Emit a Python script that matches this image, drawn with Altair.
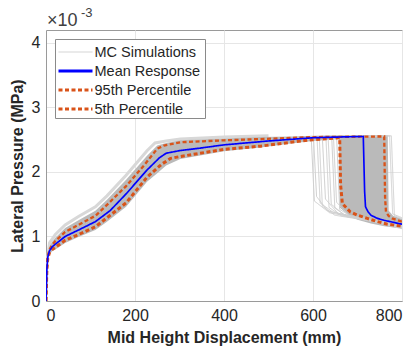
import altair as alt
import pandas as pd

# ---------------- data (pressure in units of 1e-3 MPa) ----------------
x_ticks = [0, 200, 400, 600, 800]
y_ticks = [0, 1, 2, 3, 4]

series_names = ["MC Simulations", "Mean Response", "95th Percentile", "5th Percentile"]

mean_x = [0, 1, 2, 4, 8, 14, 21, 43, 73, 111, 144, 180, 227, 255, 270, 300, 347, 400, 500,
          600, 650, 713, 716, 718, 724, 730, 745, 760, 780, 800]
mean_y = [0, 0.25, 0.5, 0.68, 0.78, 0.84, 0.88, 1.0, 1.10, 1.23, 1.40, 1.66, 2.03, 2.22, 2.29,
          2.33, 2.37, 2.42, 2.48, 2.53, 2.54, 2.55, 1.7, 1.46, 1.38, 1.33, 1.28, 1.25, 1.22, 1.19]

p95_x = [0, 1, 2, 4, 8, 14, 21, 43, 73, 111, 137, 180, 220, 250, 265, 302, 400, 482, 600,
         760, 762, 764, 770, 778, 790, 800]
p95_y = [0, 0.25, 0.5, 0.7, 0.8, 0.87, 0.93, 1.07, 1.18, 1.32, 1.49, 1.78, 2.1, 2.36, 2.41,
         2.46, 2.49, 2.51, 2.54, 2.55, 1.6, 1.38, 1.32, 1.28, 1.25, 1.23]

p5_x = [0, 1, 2, 4, 8, 14, 21, 43, 73, 111, 137, 180, 227, 260, 280, 302, 400, 482, 550,
        600, 660, 662, 666, 684, 700, 722, 745, 767, 800]
p5_y = [0, 0.25, 0.5, 0.66, 0.75, 0.8, 0.83, 0.94, 1.03, 1.15, 1.29, 1.52, 1.92, 2.12, 2.21,
        2.24, 2.35, 2.40, 2.46, 2.50, 2.53, 1.8, 1.51, 1.38, 1.33, 1.28, 1.23, 1.19, 1.16]

# envelope of the dense bundle of Monte Carlo curves
env_x = [0, 1, 2, 4, 8, 14, 21, 43, 73, 111, 137, 180, 227, 250, 270, 302, 400, 482, 550,
         600, 658, 660, 680, 700, 730, 760, 768, 770, 780, 800]
env_top = [0, 0.3, 0.55, 0.74, 0.85, 0.92, 0.98, 1.13, 1.25, 1.40, 1.57, 1.88, 2.25, 2.41, 2.45,
           2.49, 2.52, 2.54, 2.55, 2.56, 2.57, 2.57, 2.57, 2.57, 2.57, 2.57, 2.57, 1.40, 1.32, 1.27]
env_bot = [0, 0.2, 0.45, 0.62, 0.72, 0.77, 0.80, 0.90, 0.99, 1.10, 1.23, 1.46, 1.85, 1.98, 2.10,
           2.20, 2.32, 2.38, 2.44, 2.48, 2.51, 1.45, 1.33, 1.26, 1.20, 1.16, 1.15, 1.15, 1.14, 1.13]

# faint outer edge of the bundle in the rising part
halo_x = [0, 2, 8, 21, 43, 73, 111, 137, 180, 227, 245, 270, 302, 400, 500]
halo_top = [0, 0.6, 0.9, 1.03, 1.18, 1.31, 1.46, 1.63, 1.95, 2.33, 2.45, 2.48, 2.51, 2.54, 2.56]

# individual (sparser) simulations that fail outside the dense bundle
sim_start_x = 540
sim_start_y = 2.50
sim_plateau = [2.54, 2.55, 2.54, 2.55, 2.54, 2.55, 2.54, 2.55, 2.54, 2.55, 2.56, 2.56]
sim_drop_x = [596, 601, 609, 614, 621, 629, 634, 642, 646, 653, 772, 776]
sim_drop_bottom = [1.55, 1.62, 1.52, 1.47, 1.58, 1.45, 1.50, 1.44, 1.53, 1.42, 1.35, 1.32]
sim_knee_bottom = [1.40, 1.37, 1.38, 1.33, 1.36, 1.32, 1.34, 1.31, 1.33, 1.30, 1.27, 1.25]
sim_end = [1.12, 1.15, 1.13, 1.16, 1.14, 1.17, 1.13, 1.15, 1.18, 1.14, 1.24, 1.22]

# ---------------- tables ----------------
rows = []
for i in range(len(sim_drop_x)):
    dx = sim_drop_x[i]
    pts = [(sim_start_x, sim_start_y), (dx, sim_plateau[i]), (dx + 7, sim_drop_bottom[i]),
           (dx + 35, sim_knee_bottom[i]), (800, sim_end[i])]
    for k, (xx, yy) in enumerate(pts):
        rows.append(dict(x=xx, y=yy, series="MC Simulations", id=f"sim{i}", k=k))
sims = pd.DataFrame(rows)

main_rows = []
for name, xs, ys in [("95th Percentile", p95_x, p95_y), ("5th Percentile", p5_x, p5_y),
                     ("Mean Response", mean_x, mean_y)]:
    for k, (xx, yy) in enumerate(zip(xs, ys)):
        main_rows.append(dict(x=xx, y=yy, series=name, id=name, k=k))
main = pd.DataFrame(main_rows)

env = pd.DataFrame(dict(x=env_x, top=env_top, bot=env_bot))
halo = pd.DataFrame(dict(x=halo_x, y=halo_top))

# ---------------- styles ----------------
orange = "#D95319"
style_color = {"MC Simulations": "#cfcfcf", "Mean Response": "#0000ff",
               "95th Percentile": orange, "5th Percentile": orange}
style_dash = {"MC Simulations": [1, 0], "Mean Response": [1, 0],
              "95th Percentile": [4, 2.5], "5th Percentile": [4, 2.5]}
style_width = {"MC Simulations": 1, "Mean Response": 3,
               "95th Percentile": 3, "5th Percentile": 3}

xscale = alt.Scale(domain=[0, 800], nice=False)
yscale = alt.Scale(domain=[0, 4.2], nice=False)
xenc = alt.X("x:Q", scale=xscale,
             axis=alt.Axis(values=x_ticks, title="Mid Height Displacement (mm)", grid=True,
                           format="d"))
yenc = alt.Y("y:Q", scale=yscale,
             axis=alt.Axis(values=y_ticks, title="Lateral Pressure (MPa)", grid=True,
                           format="d"))

color = alt.Color("series:N", legend=None,
                  scale=alt.Scale(domain=series_names,
                                  range=[style_color[s] for s in series_names]))
dash = alt.StrokeDash("series:N", legend=None,
                      scale=alt.Scale(domain=series_names,
                                      range=[style_dash[s] for s in series_names]))
width = alt.StrokeWidth("series:N", legend=None,
                        scale=alt.Scale(domain=series_names,
                                        range=[style_width[s] for s in series_names]))

halo_line = alt.Chart(halo).mark_line(color="#d8d8d8", strokeWidth=3, clip=True).encode(
    x=alt.X("x:Q", scale=xscale), y=alt.Y("y:Q", scale=yscale))

band = alt.Chart(env).mark_area(color="#bababa", opacity=1, clip=True).encode(
    x=alt.X("x:Q", scale=xscale),
    y=alt.Y("top:Q", scale=yscale),
    y2="bot:Q",
)

sim_lines = alt.Chart(sims).mark_line(clip=True).encode(
    x=xenc, y=yenc, color=color, strokeDash=dash, strokeWidth=width,
    detail="id:N", order="k:Q")

main_lines = alt.Chart(main).mark_line(clip=True).encode(
    x=xenc, y=yenc, color=color, strokeDash=dash, strokeWidth=width,
    detail="id:N", order="k:Q")

# ---------------- legend (drawn in pixel space inside the plot) ----------------
one = pd.DataFrame({"a": [0]})
legend_layers = [
    alt.Chart(one).mark_rect(fill="white", stroke="#8a8a8a", strokeWidth=1).encode(
        x=alt.value(9.5), x2=alt.value(159.5), y=alt.value(9.5), y2=alt.value(88.5))
]
row_y = [22, 41, 60, 79]
for name, ry in zip(series_names, row_y):
    legend_layers.append(
        alt.Chart(one).mark_rule(color=style_color[name], strokeWidth=style_width[name],
                                 strokeDash=style_dash[name]).encode(
            x=alt.value(12.5), x2=alt.value(46.5), y=alt.value(ry)))
    legend_layers.append(
        alt.Chart(pd.DataFrame({"t": [name]})).mark_text(
            align="left", baseline="middle", fontSize=14.5, font="Liberation Sans",
            color="#262626").encode(x=alt.value(48.5), y=alt.value(ry + 0.5), text="t:N"))

exp_base = alt.Chart(pd.DataFrame({"t": ["×10"]})).mark_text(
    align="left", baseline="middle", fontSize=18, font="Liberation Sans", color="#404040"
).encode(x=alt.value(1), y=alt.value(-9), text="t:N")
exp_sup = alt.Chart(pd.DataFrame({"t": ["-3"]})).mark_text(
    align="left", baseline="middle", fontSize=13, font="Liberation Sans", color="#404040"
).encode(x=alt.value(35), y=alt.value(-17), text="t:N")

chart = alt.layer(halo_line, band, sim_lines, main_lines, *legend_layers,
                  exp_base, exp_sup).properties(
    width=356, height=271,
    autosize=alt.AutoSizeParams(type="none"),
    padding={"left": 46, "top": 30, "right": 13, "bottom": 51},
    background="white",
).configure_view(stroke="#9a9a9a", strokeWidth=1).configure_axis(
    labelFont="Liberation Sans", labelFontSize=16, labelColor="#262626",
    titleFont="Liberation Sans", titleFontSize=16, titleFontWeight="bold", titleColor="#262626",
    domainColor="#9a9a9a", tickSize=0, gridColor="#e6e6e6", gridWidth=1,
    labelPadding=6,
).configure_axisX(titlePadding=6).configure_axisY(titlePadding=6)

chart.save("out.html", embed_options={"renderer": "svg", "actions": False})
